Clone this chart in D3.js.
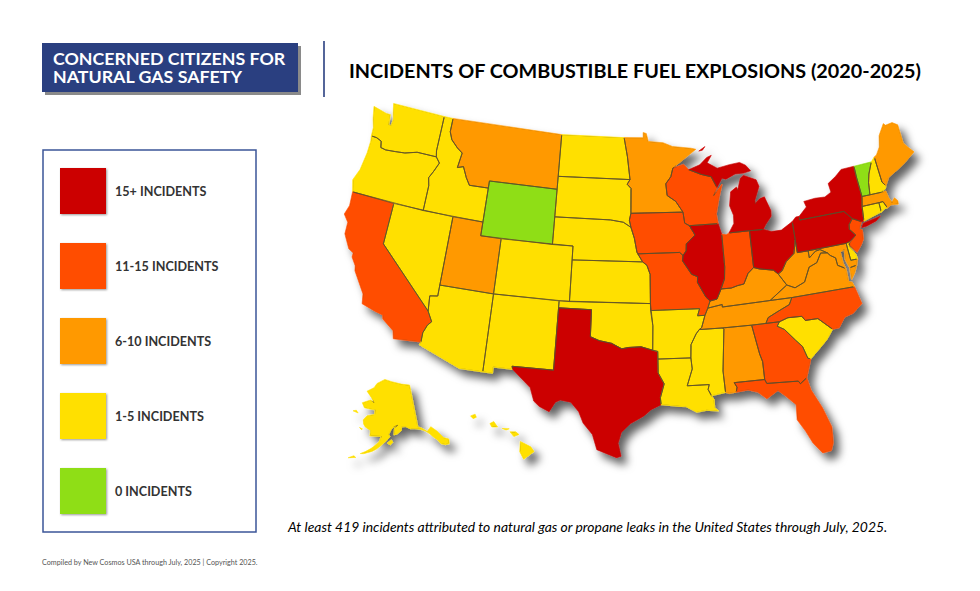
<!DOCTYPE html>
<html><head><meta charset="utf-8">
<script src="https://cdn.jsdelivr.net/npm/d3@7"></script>
<style>html,body{margin:0;padding:0;background:#fff}svg{display:block}text{font-family:Lato,"Open Sans",sans-serif}</style>
</head><body><svg id="c" width="980" height="591"></svg>
<script>
const legendLabels=["15+ INCIDENTS","11-15 INCIDENTS","6-10 INCIDENTS","1-5 INCIDENTS","0 INCIDENTS"];
const legendColors=["#cc0000","#ff4e00","#ff9900","#ffe000","#8fde14"];
const bin0=["TX","IL","MI","OH","PA","NY"];
const bin1=["CA","IA","MO","WI","IN","GA","FL","NC","NJ"];
const bin2=["MT","UT","MN","ME","KY","TN","AL","VA","WV","MA","MD"];
const bin3=["WA","OR","ID","NV","AZ","NM","CO","ND","SD","NE","KS","OK","AR","LA","MS","SC","NH","CT","RI","DE","AK","HI"];
const bin4=["WY","VT"];

const WA=[[[-124.7,48.38],[-123.2,48.15],[-122.75,48.15],[-122.6,47.4],[-122.35,47.4],[-122.3,47.9],[-122.5,48.3],[-122.75,49],[-117.03,49],[-117.04,46.42],[-116.92,45.995],[-118.98,46],[-119.3,45.93],[-120.2,45.73],[-121.2,45.65],[-122.2,45.58],[-122.75,45.65],[-122.9,46.1],[-123.45,46.25],[-124.05,46.27],[-124.1,46.9],[-124.4,47.5]]];
const OR=[[[-124.05,46.27],[-123.45,46.25],[-122.9,46.1],[-122.75,45.65],[-122.2,45.58],[-121.2,45.65],[-120.2,45.73],[-119.3,45.93],[-118.98,46],[-116.92,45.995],[-116.47,45.6],[-116.85,44.95],[-117.22,44.4],[-117.03,43.83],[-117.03,42],[-124.21,42],[-124.55,42.84],[-124.15,43.7],[-123.95,45],[-123.95,45.9]]];
const CA=[[[-124.21,42],[-120,42],[-120,39],[-114.63,35],[-114.14,34.3],[-114.45,34],[-114.72,33.4],[-114.72,32.72],[-117.12,32.53],[-117.3,33.1],[-118.4,33.75],[-118.5,34.03],[-119.2,34.15],[-120.5,34.45],[-120.65,35.15],[-121.9,36.6],[-122,36.95],[-122.5,37.5],[-122.5,37.8],[-123,38],[-123.75,38.95],[-123.8,39.8],[-124.35,40.3],[-124.1,41]]];
const NV=[[[-120,42],[-114.04,42],[-114.04,36.2],[-114.75,36.1],[-114.63,35],[-120,39]]];
const ID=[[[-117.03,49],[-116.05,49],[-116.05,48],[-115.7,47.45],[-114.95,46.95],[-114.35,46.65],[-114.55,45.55],[-113.95,45.7],[-113.45,44.95],[-113,44.45],[-111.05,44.48],[-111.05,42],[-117.03,42],[-117.03,43.83],[-117.22,44.4],[-116.85,44.95],[-116.47,45.6],[-116.92,45.995],[-117.04,46.42]]];
const MT=[[[-116.05,49],[-104.05,49],[-104.05,45],[-111.05,45],[-111.05,44.48],[-113,44.45],[-113.45,44.95],[-113.95,45.7],[-114.55,45.55],[-114.35,46.65],[-114.95,46.95],[-115.7,47.45],[-116.05,48]]];
const WY=[[[-111.05,45],[-104.05,45],[-104.05,41],[-111.05,41]]];
const UT=[[[-114.04,42],[-111.05,42],[-111.05,41],[-109.05,41],[-109.05,37],[-114.04,37]]];
const CO=[[[-109.05,41],[-102.05,41],[-102.05,37],[-109.05,37]]];
const AZ=[[[-114.04,37],[-109.05,37],[-109.05,31.33],[-111.07,31.33],[-114.81,32.5],[-114.72,32.72],[-114.72,33.4],[-114.45,34],[-114.14,34.3],[-114.63,35],[-114.75,36.1],[-114.04,36.2]]];
const NM=[[[-109.05,37],[-103,37],[-103.04,32],[-106.62,32],[-106.53,31.78],[-108.21,31.78],[-108.21,31.33],[-109.05,31.33]]];
const ND=[[[-104.05,49],[-97.23,49],[-96.85,47.6],[-96.56,45.94],[-104.05,45.94]]];
const SD=[[[-104.05,45.94],[-96.56,45.94],[-96.85,45.6],[-96.45,45.3],[-96.45,43.5],[-96.6,43],[-96.44,42.49],[-97.2,42.85],[-98.5,43],[-104.05,43]]];
const NE=[[[-104.05,43],[-98.5,43],[-97.2,42.85],[-96.44,42.49],[-96.1,41.7],[-95.85,40.7],[-95.31,40],[-102.05,40],[-102.05,41],[-104.05,41]]];
const KS=[[[-102.05,40],[-95.31,40],[-94.9,39.75],[-94.61,39.1],[-94.62,37],[-102.05,37]]];
const OK=[[[-103,37],[-94.62,37],[-94.43,35.4],[-94.48,33.64],[-95.5,33.9],[-96.6,33.85],[-97.2,33.75],[-98.1,34.13],[-99.2,34.3],[-100,34.56],[-100,36.5],[-103,36.5]]];
const TX=[[[-106.62,32],[-103.04,32],[-103,36.5],[-100,36.5],[-100,34.56],[-99.2,34.3],[-98.1,34.13],[-97.2,33.75],[-96.6,33.85],[-95.5,33.9],[-94.48,33.64],[-94.04,33.55],[-94.04,33],[-94.04,32],[-93.55,31.2],[-93.9,30.2],[-93.85,29.7],[-94.7,29.35],[-95.3,28.9],[-96.4,28.35],[-97.15,27.7],[-97.4,26.9],[-97.15,25.96],[-97.5,25.85],[-99.1,26.4],[-99.5,27.5],[-100.3,28.3],[-100.7,29.1],[-101.4,29.77],[-102.3,29.88],[-102.7,29.7],[-103.15,28.98],[-104,29.3],[-104.5,29.65],[-104.9,30.6],[-106.53,31.78]]];
const MN=[[[-97.23,49],[-95.15,49],[-95.15,49.38],[-94.8,49.3],[-94.6,48.72],[-93,48.6],[-92,48.3],[-90,48.1],[-89.5,48],[-92.05,46.72],[-92.3,46.1],[-92.85,45.6],[-92.75,44.75],[-91.9,44.3],[-91.22,43.5],[-96.45,43.5],[-96.45,45.3],[-96.85,45.6],[-96.56,45.94],[-96.85,47.6]]];
const IA=[[[-96.45,43.5],[-91.22,43.5],[-91.1,42.7],[-90.65,42.5],[-90.15,41.8],[-91.05,41.2],[-91.1,40.7],[-91.42,40.38],[-91.73,40.61],[-95.77,40.58],[-95.85,40.7],[-96.1,41.7],[-96.44,42.49],[-96.6,43]]];
const MO=[[[-95.77,40.58],[-91.73,40.61],[-91.42,40.38],[-91.5,40],[-90.7,39],[-90.15,38.8],[-90.2,38.4],[-89.5,37.3],[-89.15,37],[-89.4,36.5],[-89.7,36],[-90.37,36],[-90.15,36.5],[-94.62,36.5],[-94.62,37],[-94.61,39.1],[-94.9,39.75],[-95.31,40]]];
const AR=[[[-94.62,36.5],[-90.15,36.5],[-90.37,36],[-89.7,36],[-90.07,35.13],[-90.3,35],[-90.6,34.7],[-91.1,33.95],[-91.17,33],[-94.04,33],[-94.04,33.55],[-94.48,33.64],[-94.43,35.4]]];
const LA=[[[-94.04,33],[-91.17,33],[-91.1,32.2],[-91.6,31],[-89.73,31],[-89.85,30.65],[-89.6,30.18],[-89.4,29.9],[-89.4,29.3],[-89.1,29.05],[-90.1,29.15],[-90.9,29.05],[-91.8,29.5],[-92.3,29.53],[-93.85,29.7],[-93.9,30.2],[-93.55,31.2],[-94.04,32]]];
const MS=[[[-91.17,33],[-91.1,33.95],[-90.6,34.7],[-90.3,35],[-88.2,35],[-88.1,34.9],[-88.47,31.9],[-88.4,30.35],[-89.6,30.18],[-89.85,30.65],[-89.73,31],[-91.6,31],[-91.1,32.2]]];
const AL=[[[-88.2,35],[-85.6,35],[-85.18,32.87],[-85,32.3],[-85,31],[-87.6,31],[-87.4,30.65],[-87.5,30.3],[-88.1,30.25],[-88.4,30.35],[-88.47,31.9],[-88.1,34.9]]];
const GA=[[[-85.6,35],[-83.1,35],[-83.35,34.7],[-82.75,34.4],[-81.9,33.5],[-81.4,33],[-81.1,32.1],[-80.85,32.03],[-81.45,30.72],[-82.05,30.36],[-82.2,30.57],[-84.86,30.7],[-85,31],[-85,32.3],[-85.18,32.87]]];
const FL=[[[-87.6,31],[-85,31],[-84.86,30.7],[-82.2,30.57],[-82.05,30.36],[-81.45,30.72],[-81.25,29.8],[-80.55,28.4],[-80.05,26.9],[-80.15,25.75],[-80.4,25.2],[-81.1,25.13],[-81.75,25.95],[-82.2,26.9],[-82.75,27.8],[-82.65,28.9],[-83.4,29.6],[-84,30.1],[-85,29.6],[-85.7,30.15],[-86.5,30.38],[-87.5,30.3],[-87.4,30.65]]];
const SC=[[[-83.1,35],[-82.3,35.2],[-81.05,35.15],[-80.8,34.82],[-79.67,34.8],[-78.55,33.86],[-79.2,33.2],[-79.9,32.7],[-80.85,32.03],[-81.1,32.1],[-81.4,33],[-81.9,33.5],[-82.75,34.4],[-83.35,34.7]]];
const NC=[[[-84.32,35],[-83.1,35],[-82.3,35.2],[-81.05,35.15],[-80.8,34.82],[-79.67,34.8],[-78.55,33.86],[-77.95,33.88],[-77.3,34.55],[-76.5,34.7],[-75.55,35.25],[-75.87,36.55],[-81.68,36.59],[-82,36.12],[-83.1,35.75],[-84.05,35.4]]];
const TN=[[[-90.3,35],[-88.2,35],[-85.6,35],[-84.32,35],[-84.05,35.4],[-83.1,35.75],[-82,36.12],[-81.68,36.59],[-83.68,36.6],[-88.07,36.5],[-88.07,36.68],[-89.4,36.5],[-89.7,36],[-90.07,35.13]]];
const KY=[[[-89.4,36.5],[-88.07,36.68],[-88.07,36.5],[-83.68,36.6],[-81.97,37.54],[-82.6,38.4],[-83,38.73],[-84.3,38.95],[-84.82,39.1],[-85.4,38.73],[-85.9,38],[-86.5,37.93],[-87.1,37.8],[-88.05,37.8],[-88.5,37.1],[-89.15,37]]];
const IL=[[[-91.42,40.38],[-91.1,40.7],[-91.05,41.2],[-90.15,41.8],[-90.65,42.5],[-87.8,42.5],[-87.55,41.75],[-87.53,39.35],[-87.65,38.5],[-88.05,37.8],[-88.5,37.1],[-89.15,37],[-89.5,37.3],[-90.2,38.4],[-90.15,38.8],[-90.7,39],[-91.5,40]]];
const IN=[[[-87.53,41.72],[-87.1,41.65],[-86.82,41.76],[-84.8,41.76],[-84.82,39.1],[-85.4,38.73],[-85.9,38],[-86.5,37.93],[-87.1,37.8],[-88.05,37.8],[-87.65,38.5],[-87.53,39.35]]];
const OH=[[[-84.8,41.76],[-83.45,41.73],[-82.7,41.5],[-81.7,41.5],[-80.52,41.98],[-80.52,40.64],[-80.85,39.7],[-81.7,39.2],[-82.2,38.6],[-82.6,38.4],[-83,38.73],[-84.3,38.95],[-84.82,39.1]]];
const WV=[[[-82.6,38.4],[-82.2,38.6],[-81.7,39.2],[-80.85,39.7],[-80.52,40.64],[-80.52,39.72],[-79.48,39.72],[-79.48,39.2],[-78.8,39.6],[-78.35,39.65],[-77.72,39.32],[-78.35,39.4],[-78.87,38.77],[-79.65,38.55],[-80.3,37.55],[-81.25,37.25],[-81.97,37.54]]];
const VA=[[[-83.68,36.6],[-81.68,36.59],[-75.87,36.55],[-76,36.9],[-76.3,37],[-76.3,37.6],[-76.3,37.95],[-77,38.3],[-77.05,38.85],[-77.5,39.1],[-77.72,39.32],[-78.35,39.4],[-78.87,38.77],[-79.65,38.55],[-80.3,37.55],[-81.25,37.25],[-81.97,37.54]],[[-75.95,37.95],[-75.25,38.03],[-75.6,37.5],[-76,37.1]]];
const MD=[[[-79.48,39.72],[-75.79,39.72],[-75.7,38.46],[-75.05,38.45],[-75.25,38.03],[-75.95,37.95],[-76.2,38.6],[-76.1,39.3],[-76.5,39.2],[-76.45,38.4],[-76.3,37.95],[-77,38.3],[-77.05,38.85],[-77.5,39.1],[-77.72,39.32],[-78.35,39.65],[-78.8,39.6],[-79.48,39.2]]];
const DE=[[[-75.79,39.72],[-75.42,39.8],[-75.55,39.45],[-75.1,38.78],[-75.05,38.45],[-75.7,38.46]]];
const PA=[[[-80.52,41.98],[-80.1,42.27],[-79.76,42.27],[-79.76,42],[-75.35,42],[-74.7,41.36],[-75.13,40.98],[-75.2,40.65],[-74.72,40.15],[-75.42,39.8],[-75.79,39.72],[-79.48,39.72],[-80.52,39.72],[-80.52,40.64]]];
const NJ=[[[-74.7,41.36],[-73.9,41],[-74.25,40.5],[-74,40.4],[-74.1,39.75],[-74.4,39.4],[-74.95,38.93],[-75.5,39.5],[-75.55,39.63],[-74.72,40.15],[-75.2,40.65],[-75.13,40.98]]];
const NY=[[[-79.76,42.27],[-79.76,42],[-75.35,42],[-74.7,41.36],[-73.9,41],[-73.65,41],[-73.49,42.05],[-73.27,42.75],[-73.35,44.2],[-73.34,45.01],[-74.7,45],[-75.4,44.6],[-76.3,44.2],[-76.2,43.55],[-76.9,43.3],[-77.9,43.35],[-79.05,43.27],[-78.9,42.85]],[[-74,40.58],[-73.75,40.85],[-72.6,40.98],[-72,41.05],[-72.5,40.8],[-73.5,40.6]]];
const CT=[[[-73.65,41],[-72,41.3],[-71.8,41.32],[-71.8,42.02],[-73.49,42.05]]];
const RI=[[[-71.8,41.32],[-71.35,41.5],[-71.12,41.5],[-71.38,42.02],[-71.8,42.02]]];
const MA=[[[-73.49,42.05],[-71.8,42.02],[-71.38,42.02],[-71.12,41.5],[-70.7,41.65],[-70,41.55],[-69.95,41.8],[-70.2,42.07],[-70.55,41.8],[-70.75,42.2],[-70.85,42.7],[-71.3,42.7],[-72.46,42.73],[-73.27,42.75]]];
const VT=[[[-73.27,42.75],[-72.46,42.73],[-72.3,43.6],[-72.05,44.2],[-71.5,45.01],[-73.34,45.01],[-73.35,44.2]]];
const NH=[[[-72.46,42.73],[-71.3,42.7],[-70.82,42.87],[-70.7,43.07],[-70.98,43.4],[-71.08,45.3],[-71.5,45.01],[-72.05,44.2],[-72.3,43.6]]];
const ME=[[[-70.7,43.07],[-70.2,43.6],[-69,44],[-68.2,44.3],[-67,44.85],[-67.45,45.3],[-67.8,45.7],[-67.79,47.07],[-68.3,47.35],[-69.05,47.3],[-69.22,47.46],[-70,46.7],[-70.3,45.9],[-70.8,45.4],[-71.08,45.3],[-70.98,43.4]]];
const WI=[[[-92.05,46.72],[-90.9,46.95],[-90.4,46.55],[-89.1,46.14],[-88.1,45.92],[-87.6,45.1],[-88,44.55],[-87.05,45.3],[-87.5,44.3],[-87.9,43.2],[-87.8,42.5],[-90.65,42.5],[-91.1,42.7],[-91.22,43.5],[-91.9,44.3],[-92.75,44.75],[-92.85,45.6],[-92.3,46.1]]];
const MI=[[[-90.4,46.55],[-89.2,46.85],[-88.4,47.35],[-87.9,47.47],[-88.4,46.95],[-87.4,46.5],[-86.1,46.67],[-85,46.75],[-84.4,46.5],[-83.95,46.05],[-84.7,45.95],[-85.6,45.95],[-86.6,45.65],[-87,45.75],[-87.6,45.1],[-88.1,45.92],[-89.1,46.14]],[[-84.8,41.76],[-86.82,41.76],[-86.25,42.4],[-86.2,43],[-86.5,43.7],[-86.25,44.7],[-85.6,45],[-85.5,44.8],[-85.1,45.6],[-84.75,45.78],[-83.5,45.35],[-83.3,44.85],[-83.9,43.9],[-83.9,43.65],[-83.4,43.95],[-82.9,44.05],[-82.45,43],[-82.5,42.6],[-83.15,42.05],[-83.45,41.73]],[[-89.2,47.85],[-88.5,48.15],[-88.8,47.9]]];
const AK=[[[-141,69.65],[-141,60.3],[-139.5,59.9],[-137.5,58.9],[-135.5,59.7],[-133.5,58.4],[-131.8,56.6],[-130,55.9],[-130.5,54.9],[-132,55],[-133.5,55.5],[-134.3,56.5],[-135.8,57.5],[-136.6,58.2],[-138,59],[-139.8,59.6],[-142.5,60.05],[-144.5,60.2],[-146.5,60.8],[-148.2,60.8],[-148.5,60],[-150.5,59.3],[-151.8,59.2],[-151.4,60.7],[-150,61.2],[-151.8,60.9],[-153,60.3],[-154,59.3],[-153.5,58.8],[-155,57.9],[-157,56.9],[-158.8,56],[-160.5,55.4],[-163.5,54.7],[-164.8,54.6],[-163,55.2],[-161,56],[-160,56.5],[-158,57.6],[-157.2,58.8],[-158.5,58.8],[-162,58.7],[-162,59.9],[-164.5,60.5],[-165.5,61.1],[-166,62],[-164.5,63],[-161,63.5],[-161,64.5],[-163,64.5],[-166.5,64.6],[-168.1,65.6],[-164,66.5],[-162,66.1],[-163.8,67.1],[-166.8,68.3],[-163,69.3],[-161.5,70.3],[-156.6,71.35],[-152,70.85],[-146,70.15]],[[-154.6,57.4],[-153.4,57],[-152.3,57.6],[-152.9,58.1]],[[-167,60.2],[-165.6,60],[-166,59.8]],[[-171.7,63.4],[-169,63.2],[-170.2,63.7]],[[-168.9,53.2],[-166.2,53.6],[-167,53.9]]];
const HI=[[[-155.9,20.25],[-155.1,19.85],[-154.85,19.5],[-155.65,18.95],[-155.95,19.5]],[[-156.7,20.95],[-156.25,20.95],[-156,20.75],[-156.4,20.6]],[[-158.25,21.55],[-157.95,21.7],[-157.65,21.3],[-158.1,21.3]],[[-159.75,22.1],[-159.4,22.23],[-159.3,22],[-159.55,21.9]],[[-157.3,21.2],[-156.75,21.17],[-157,21.08]]];
const outlines={WA,OR,CA,NV,ID,MT,WY,UT,CO,AZ,NM,ND,SD,NE,KS,OK,TX,MN,IA,MO,AR,LA,MS,AL,GA,FL,SC,NC,TN,KY,IL,IN,OH,WV,VA,MD,DE,PA,NJ,NY,CT,RI,MA,VT,NH,ME,WI,MI,AK,HI};

const svg=d3.select("#c");
const bins=[bin0,bin1,bin2,bin3,bin4];
const colorOf=code=>legendColors[bins.findIndex(b=>b.includes(code))];
const navy="#2a3f80";

const defs=svg.append("defs");
const sh=defs.append("filter").attr("id","mapShadow").attr("x","-20%").attr("y","-20%").attr("width","140%").attr("height","140%");
sh.append("feDropShadow").attr("dx",6).attr("dy",7).attr("stdDeviation",4).attr("flood-color","#000").attr("flood-opacity",.62);
const sm=defs.append("filter").attr("id","swatchShadow").attr("x","-10%").attr("y","-10%").attr("width","125%").attr("height","125%");
sm.append("feDropShadow").attr("dx",1).attr("dy",1).attr("stdDeviation",.8).attr("flood-color","#000").attr("flood-opacity",.4);
const er=defs.append("filter").attr("id","erode").attr("x","0").attr("y","0").attr("width","980").attr("height","591").attr("filterUnits","userSpaceOnUse");
er.append("feMorphology").attr("operator","erode").attr("radius",1.1);

// header
svg.append("rect").attr("x",45).attr("y",46).attr("width",256).attr("height",49).attr("fill","#8a8a8a");
svg.append("rect").attr("x",42).attr("y",43).attr("width",256).attr("height",49).attr("fill",navy);
const head=svg.append("text").attr("fill","#fff").attr("font-weight",700).attr("font-size",17.8);
head.append("tspan").attr("x",53).attr("y",65).text("CONCERNED CITIZENS FOR");
head.append("tspan").attr("x",53).attr("y",83).text("NATURAL GAS SAFETY");
svg.append("line").attr("x1",324).attr("x2",324).attr("y1",41).attr("y2",97).attr("stroke",navy).attr("stroke-width",1.6);
svg.append("text").attr("x",349).attr("y",78).attr("fill","#000").attr("font-weight",700).attr("font-size",19.8).text("INCIDENTS OF COMBUSTIBLE FUEL EXPLOSIONS (2020-2025)");

// legend
svg.append("rect").attr("x",43).attr("y",150).attr("width",213).attr("height",382).attr("fill","#fff").attr("stroke","#3b5598").attr("stroke-width",1.5);
const lg=svg.selectAll("g.lg").data(legendLabels).join("g").attr("class","lg")
  .attr("transform",(d,i)=>`translate(0,${i*75})`);
lg.append("rect").attr("x",60).attr("y",168).attr("width",46).attr("height",46).attr("fill",(d,i)=>legendColors[i]).attr("filter","url(#swatchShadow)");
lg.append("text").attr("x",115).attr("y",196).attr("fill","#333").attr("font-weight",700).attr("font-size",12.6).text(d=>d);

// notes
svg.append("text").attr("x",288).attr("y",532).attr("fill","#000").attr("font-style","italic").attr("font-size",13.9).text("At least 419 incidents attributed to natural gas or propane leaks in the United States through July, 2025.");
svg.append("text").attr("x",42).attr("y",565).attr("fill","#555").attr("font-size",7.2).text("Compiled by New Cosmos USA through July, 2025 | Copyright 2025.");

// map
const mainProj=d3.geoAlbers().scale(790).translate([629,280]);
const akProj=d3.geoConicEqualArea().rotate([154,0]).center([-2,58.5]).parallels([55,65]).scale(262).translate([384,438]);
const hiProj=d3.geoConicEqualArea().rotate([157,0]).center([-3,19.9]).parallels([8,18]).scale(790).translate([467,446]);
const pathFor=code=>d3.geoPath(code==="AK"?akProj:code==="HI"?hiProj:mainProj);
function ringFix(r){
  const c=[...r,r[0]];
  return d3.geoArea({type:"Polygon",coordinates:[c]})>2*Math.PI?c.slice().reverse():c;
}
const features=Object.keys(outlines).map(code=>({type:"Feature",id:code,
  geometry:{type:"MultiPolygon",coordinates:outlines[code].map(r=>[ringFix(r)])}}));

const mask=defs.append("mask").attr("id","inner").attr("maskUnits","userSpaceOnUse").attr("x",0).attr("y",0).attr("width",980).attr("height",591);
mask.append("g").attr("filter","url(#erode)").selectAll("path").data(features).join("path")
  .attr("d",d=>pathFor(d.id)(d)).attr("fill","#fff").attr("stroke","#fff").attr("stroke-width",.6);

const map=svg.append("g");
map.append("g").attr("filter","url(#mapShadow)").selectAll("path").data(features).join("path")
  .attr("d",d=>pathFor(d.id)(d)).attr("fill",d=>colorOf(d.id)).attr("stroke",d=>colorOf(d.id)).attr("stroke-width",.6);
map.append("g").attr("mask","url(#inner)").selectAll("path").data(features).join("path")
  .attr("d",d=>pathFor(d.id)(d)).attr("fill","none").attr("stroke","#5a4d2a").attr("stroke-width",.9).attr("stroke-linejoin","round");
</script></body></html>
